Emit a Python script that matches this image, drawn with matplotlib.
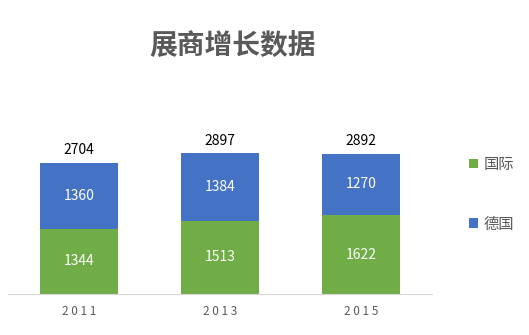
import numpy as np
import matplotlib.pyplot as plt

plt.rcParams['font.family'] = ['Noto Sans CJK SC', 'DejaVu Sans']

years = ['2011', '2013', '2015']
intl = [1344, 1513, 1622]
germany = [1360, 1384, 1270]
totals = [2704, 2897, 2892]

green = '#70AD47'
blue = '#4472C4'

fig = plt.figure(figsize=(5.29, 3.35), dpi=100)
ax = fig.add_axes([0.016, 0.1224, 0.8, 0.507])

x = np.arange(len(years))
b1 = ax.bar(x, intl, width=0.55, color=green)
b2 = ax.bar(x, germany, width=0.55, bottom=intl, color=blue)

# value labels inside the bars and totals on top
for i in range(len(years)):
    ax.text(x[i], intl[i] / 2, str(intl[i]), ha='center', va='center',
            color='white', fontsize=10)
    ax.text(x[i], intl[i] + germany[i] / 2, str(germany[i]), ha='center',
            va='center', color='white', fontsize=10)
    ax.text(x[i], totals[i] + 120, str(totals[i]), ha='center', va='bottom',
            color='black', fontsize=10)

ax.set_xlim(-0.5, 2.5)
ax.set_ylim(0, 3500)
ax.set_yticks([])
ax.set_xticks(x)
ax.set_xticklabels([' '.join(y) for y in years], color='#595959', fontsize=8.5)
ax.tick_params(axis='x', length=0, pad=8)
for s in ['top', 'right', 'left']:
    ax.spines[s].set_visible(False)
ax.spines['bottom'].set_color('#D9D9D9')

fig.text(0.44, 0.86, '展商增长数据', ha='center', va='center', fontsize=20,
         fontweight='bold', color='#595959')

fig.legend([b1, b2], ['国际', '德国'], loc='center left', bbox_to_anchor=(0.86, 0.42),
           frameon=False, fontsize=11, labelcolor='#595959', handlelength=0.6,
           handleheight=0.6, handletextpad=0.4, labelspacing=2.8)

fig.savefig('out.png', dpi=100)
